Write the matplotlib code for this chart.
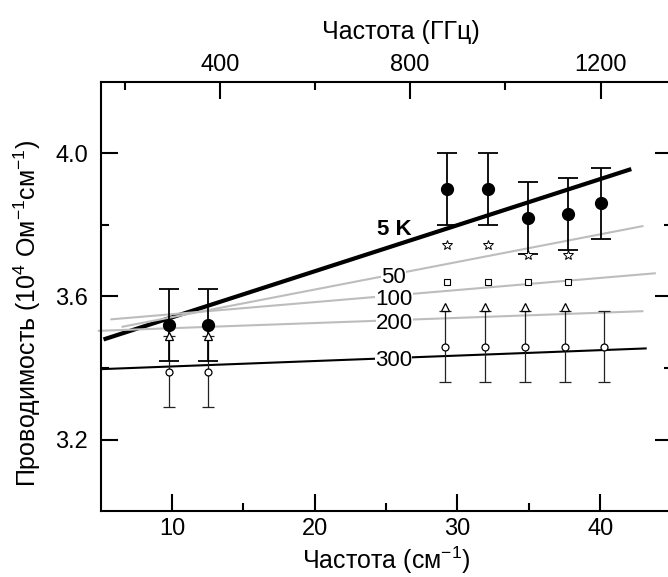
import numpy as np
import matplotlib
matplotlib.use('Agg')
from matplotlib import pyplot as plt
from matplotlib.ticker import FixedLocator, FormatStrFormatter

plt.rcParams['font.family'] = ['Liberation Sans', 'DejaVu Sans']
plt.rcParams['mathtext.fontset'] = 'custom'
plt.rcParams['mathtext.rm'] = 'Liberation Sans'
plt.rcParams['mathtext.it'] = 'Liberation Sans:italic'

CM_TO_GHZ = 29.98

# 5 K, filled circles
x_5k = [9.8, 12.55, 29.3, 32.15, 34.95, 37.76, 40.04]
sig_5k = [3.52, 3.52, 3.90, 3.90, 3.82, 3.83, 3.86]
err_5k = [0.10, 0.10, 0.10, 0.10, 0.10, 0.10, 0.10]

# 50 K stars, 100 K squares
x_50k = [29.3, 32.15, 34.95, 37.76]
sig_50k = [3.745, 3.745, 3.715, 3.715]
x_100k = [29.3, 32.15, 34.95, 37.76]
sig_100k = [3.64, 3.64, 3.64, 3.64]

# 200 K triangles
x_200k = [9.8, 12.55, 29.1, 31.9, 34.7, 37.5]
sig_200k = [3.49, 3.49, 3.57, 3.57, 3.57, 3.57]

# 300 K open circles
x_300k = [9.77, 12.5, 29.1, 31.9, 34.7, 37.5, 40.3]
sig_300k = [3.39, 3.39, 3.46, 3.46, 3.46, 3.46, 3.46]
err_300k = [0.10, 0.10, 0.10, 0.10, 0.10, 0.10, 0.10]

# linear fits: temperature, start / end points
fit_names = ['5 K', '50', '100', '200', '300']
fit_x0 = [5.2, 6.46, 5.68, 4.8, 5.0]
fit_y0 = [3.480, 3.515, 3.536, 3.504, 3.397]
fit_x1 = [42.18, 43.03, 43.9, 43.03, 43.26]
fit_y1 = [3.956, 3.797, 3.665, 3.559, 3.455]
fit_colors = ['black', '#bdbdbd', '#bdbdbd', '#bdbdbd', 'black']
fit_widths = [3.0, 1.5, 1.5, 1.5, 1.5]
label_x = [25.6, 25.5, 25.55, 25.6, 25.5]
label_y = [3.787, 3.653, 3.592, 3.524, 3.422]

fig = plt.figure(figsize=(6.68, 5.77), dpi=100)
ax = fig.add_axes([0.1507, 0.1139, 0.8546, 0.7445])

for i in range(len(fit_names)):
	ax.plot([fit_x0[i], fit_x1[i]], [fit_y0[i], fit_y1[i]],
		color=fit_colors[i], lw=fit_widths[i], solid_capstyle='butt',
		zorder=2, clip_on=False)
	if i == 0:
		ax.text(label_x[i], label_y[i], fit_names[i], fontsize=16,
			fontweight='bold', ha='center', va='center', zorder=3)
	else:
		ax.text(label_x[i], label_y[i], fit_names[i], fontsize=16,
			ha='center', va='center', zorder=3,
			bbox=dict(boxstyle='square,pad=0.0', fc='white', ec='none'))

ax.errorbar(x_300k, sig_300k, yerr=err_300k, fmt='o', ms=5, mfc='white',
	mec='black', mew=0.9, ecolor='#222222', elinewidth=0.9,
	capsize=4.5, capthick=0.9, zorder=4)
ax.errorbar(x_5k, sig_5k, yerr=err_5k, fmt='o', ms=8.5, color='black',
	elinewidth=1.3, capsize=7, capthick=1.3, zorder=5)
ax.plot(x_200k, sig_200k, '^', ms=6, mfc='white', mec='black', mew=0.9, zorder=6)
ax.plot(x_100k, sig_100k, 's', ms=4.3, mfc='white', mec='black', mew=0.8, zorder=6)
ax.plot(x_50k, sig_50k, '*', ms=7, mfc='white', mec='black', mew=0.7, zorder=6)

ax.set_xlim(5, 45)
ax.set_ylim(3.0, 4.2)

ax.xaxis.set_major_locator(FixedLocator([10, 20, 30, 40]))
ax.xaxis.set_minor_locator(FixedLocator([15, 25, 35]))
ax.yaxis.set_major_locator(FixedLocator([3.2, 3.6, 4.0]))
ax.yaxis.set_minor_locator(FixedLocator([3.4, 3.8]))
ax.yaxis.set_major_formatter(FormatStrFormatter('%.1f'))

ax.tick_params(which='both', direction='in', width=1.5, top=False, right=True,
	labelsize=17)
ax.tick_params(which='major', length=12)
ax.tick_params(which='minor', length=6)
ax.tick_params(axis='x', pad=5)
ax.tick_params(axis='y', pad=9)
for side in ['left', 'bottom', 'right']:
	ax.spines[side].set_linewidth(1.5)
ax.spines['top'].set_visible(False)

top = ax.secondary_xaxis('top', functions=(lambda x: x * CM_TO_GHZ,
	lambda f: f / CM_TO_GHZ))
top.xaxis.set_major_locator(FixedLocator([400, 800, 1200]))
top.xaxis.set_minor_locator(FixedLocator([200, 600, 1000, 1400]))
top.tick_params(which='both', direction='in', width=1.5, labelsize=17, pad=4)
top.tick_params(which='major', length=12)
top.tick_params(which='minor', length=6)
top.spines['top'].set_linewidth(1.5)

# axis titles placed in figure coordinates
fig.text(401 / 668, 1 - 32 / 577, 'Частота (ГГц)', fontsize=18,
	ha='center', va='center')
fig.text(386 / 668, 1 - 560 / 577, 'Частота (см$^{-1}$)', fontsize=18,
	ha='center', va='center')
fig.text(27 / 668, 1 - 313 / 577, 'Проводимость (10$^{4}$ Ом$^{-1}$см$^{-1}$)',
	fontsize=18, rotation=90, ha='center', va='center')

plt.savefig('out.png', dpi=100)
